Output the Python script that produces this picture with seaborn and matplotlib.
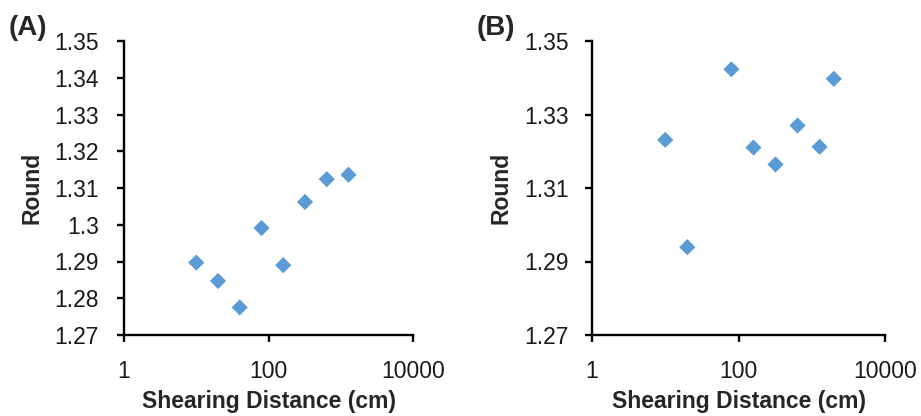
import matplotlib
matplotlib.use("Agg")
import matplotlib.pyplot as plt
import seaborn as sns
import pandas as pd
from matplotlib.ticker import FixedLocator, FixedFormatter, NullLocator

sns.set_theme(style="ticks")
plt.rcParams['font.family'] = ['Liberation Sans', 'DejaVu Sans']

# Panel A data
dist_a = [10, 20, 40, 80, 160, 320, 640, 1280]
round_a = [1.2897, 1.2847, 1.2775, 1.2991, 1.2890, 1.3062, 1.3124, 1.3136]

# Panel B data
dist_b = [10, 20, 80, 160, 320, 640, 1280, 2000]
round_b = [1.3231, 1.2939, 1.3423, 1.3210, 1.3164, 1.3270, 1.3212, 1.3397]

x_ticks = [1, 100, 10000]
x_ticklabels = ["1", "100", "10000"]
y_ticks_a = [1.27, 1.28, 1.29, 1.30, 1.31, 1.32, 1.33, 1.34, 1.35]
y_ticklabels_a = ["1.27", "1.28", "1.29", "1.3", "1.31", "1.32", "1.33", "1.34", "1.35"]
y_ticks_b = [1.27, 1.29, 1.31, 1.33, 1.35]
y_ticklabels_b = ["1.27", "1.29", "1.31", "1.33", "1.35"]

color = "#5B9BD5"
W, H = 921, 416
fig = plt.figure(figsize=(W / 100, H / 100), dpi=100)

axA = fig.add_axes([124 / W, 1 - 335 / H, (413 - 124) / W, (335 - 41) / H])
axB = fig.add_axes([592 / W, 1 - 335 / H, (885 - 592) / W, (335 - 41) / H])

panels = [
    (axA, dist_a, round_a, y_ticks_a, y_ticklabels_a, 13),
    (axB, dist_b, round_b, y_ticks_b, y_ticklabels_b, 12),
]

for ax, xs, ys, yt, ytl, ypad in panels:
    df = pd.DataFrame({"x": xs, "y": ys})
    sns.scatterplot(data=df, x="x", y="y", ax=ax, marker="D", s=68,
                    color=color, edgecolor="none", linewidth=0, zorder=3)
    ax.set_xscale("log")
    ax.set_xlim(1, 10000)
    ax.set_ylim(1.27, 1.35)
    ax.xaxis.set_major_locator(FixedLocator(x_ticks))
    ax.xaxis.set_major_formatter(FixedFormatter(x_ticklabels))
    ax.xaxis.set_minor_locator(NullLocator())
    ax.yaxis.set_major_locator(FixedLocator(yt))
    ax.yaxis.set_major_formatter(FixedFormatter(ytl))
    for s in ["top", "right"]:
        ax.spines[s].set_visible(False)
    for s in ["left", "bottom"]:
        ax.spines[s].set_linewidth(1.7)
        ax.spines[s].set_color("black")
    ax.tick_params(axis="both", which="major", direction="out", length=5,
                   width=1.7, color="black", labelsize=16.5, labelcolor="#1a1a1a")
    ax.tick_params(axis="x", pad=13)
    ax.tick_params(axis="y", pad=ypad)
    ax.set_xlabel("Shearing Distance (cm)", fontsize=16.5, fontweight="bold",
                  labelpad=5)
    ax.set_ylabel("Round", fontsize=16.5, fontweight="bold", labelpad=8)
    ax.set_facecolor("white")

fig.text(9 / W, 1 - 28 / H, "(A)", fontsize=20, fontweight="bold", va="center", ha="left")
fig.text(477 / W, 1 - 28 / H, "(B)", fontsize=20, fontweight="bold", va="center", ha="left")

fig.savefig("out.png", dpi=100, facecolor="white")
